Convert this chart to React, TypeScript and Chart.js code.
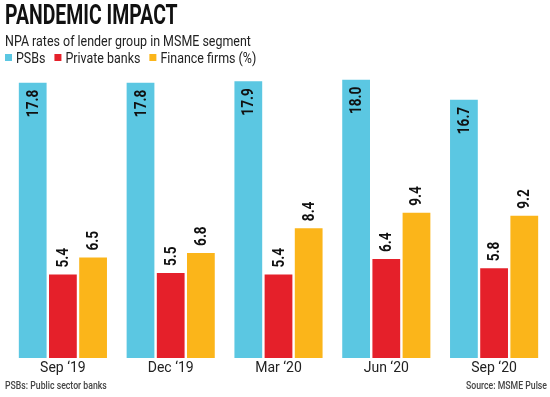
import React, { useEffect, useRef } from "react";
import { Chart, registerables } from "chart.js";

Chart.register(...registerables);

const TITLE = "PANDEMIC IMPACT";
const SUBTITLE = "NPA rates of lender group in MSME segment";
const FOOT_LEFT = "PSBs: Public sector banks";
const FOOT_RIGHT = "Source: MSME Pulse";

const categories = ["Sep \u201819", "Dec \u201819", "Mar \u201820", "Jun \u201820", "Sep \u201820"];
const seriesNames = ["PSBs", "Private banks", "Finance firms (%)"];
const psbs = [17.8, 17.8, 17.9, 18.0, 16.7];
const privateBanks = [5.4, 5.5, 5.4, 6.4, 5.8];
const financeFirms = [6.5, 6.8, 8.4, 9.4, 9.2];
const colors = ["#5BC7E2", "#E5202A", "#FBB51A"];

const FONT = "Roboto, 'Noto Sans', sans-serif";

// draw text horizontally compressed (condensed look)
function drawCondensed(ctx: any, text: string, x: number, y: number, sx: number, align: string) {
  ctx.save();
  ctx.translate(x, y);
  ctx.scale(sx, 1);
  ctx.textAlign = align;
  ctx.fillText(text, 0, 0);
  ctx.restore();
}

const headerFooterPlugin = {
  id: "headerFooter",
  afterDraw(chart: any) {
    const ctx = chart.ctx;
    ctx.save();
    ctx.textBaseline = "alphabetic";
    ctx.fillStyle = "#111";
    ctx.font = `bold 27px ${FONT}`;
    drawCondensed(ctx, TITLE, 5, 24, 0.72, "left");
    ctx.font = `15px ${FONT}`;
    ctx.fillStyle = "#222";
    const sx = 0.83;
    drawCondensed(ctx, SUBTITLE, 5, 46, sx, "left");
    // legend
    let x = 5;
    chart.data.datasets.forEach((ds: any) => {
      ctx.fillStyle = ds.backgroundColor;
      ctx.fillRect(x, 54, 7, 7);
      x += 11;
      ctx.fillStyle = "#222";
      drawCondensed(ctx, ds.label, x, 63, sx, "left");
      x += ctx.measureText(ds.label).width * sx + 9;
    });
    // footer
    ctx.font = `500 10px ${FONT}`;
    ctx.fillStyle = "#444";
    drawCondensed(ctx, FOOT_LEFT, 5, 389, 0.87, "left");
    drawCondensed(ctx, FOOT_RIGHT, 547, 389, 0.87, "right");
    ctx.restore();
  },
};

const valueLabelPlugin = {
  id: "valueLabels",
  afterDatasetsDraw(chart: any) {
    const ctx = chart.ctx;
    ctx.save();
    ctx.fillStyle = "#111";
    ctx.font = `bold 16px ${FONT}`;
    ctx.textBaseline = "middle";
    chart.data.datasets.forEach((ds: any, di: number) => {
      const meta = chart.getDatasetMeta(di);
      meta.data.forEach((bar: any, i: number) => {
        const text = ds.data[i].toFixed(1);
        ctx.save();
        if (di === 0) {
          ctx.translate(bar.x, bar.y + 7);
          ctx.rotate(-Math.PI / 2);
          ctx.scale(0.85, 1);
          ctx.textAlign = "right";
        } else {
          ctx.translate(bar.x, bar.y - 7);
          ctx.rotate(-Math.PI / 2);
          ctx.scale(0.85, 1);
          ctx.textAlign = "left";
        }
        ctx.fillText(text, 0, 1);
        ctx.restore();
      });
    });
    ctx.restore();
  },
};

export default function App() {
  const ref = useRef<HTMLCanvasElement | null>(null);
  useEffect(() => {
    document.body.style.margin = "0";
    const chart = new Chart(ref.current as HTMLCanvasElement, {
      type: "bar",
      data: {
        labels: categories,
        datasets: [
          { label: seriesNames[0], data: psbs, backgroundColor: colors[0] },
          { label: seriesNames[1], data: privateBanks, backgroundColor: colors[1] },
          { label: seriesNames[2], data: financeFirms, backgroundColor: colors[2] },
        ],
      },
      options: {
        animation: false,
        responsive: true,
        maintainAspectRatio: false,
        layout: { padding: { left: 5, right: 2, top: 72, bottom: 20 } },
        datasets: { bar: { categoryPercentage: 0.84, barPercentage: 0.92 } },
        plugins: {
          legend: { display: false },
          title: { display: false },
          tooltip: { enabled: false },
        },
        scales: {
          x: {
            grid: { display: false, drawTicks: false },
            border: { display: false },
            ticks: { color: "#222", font: { family: FONT, size: 14 }, padding: 2 },
            afterFit: (s: any) => {
              s.height = 19;
            },
          },
          y: {
            min: 0,
            max: 18.5,
            grid: { display: false, drawTicks: false },
            border: { display: false },
            ticks: { display: false },
            afterFit: (s: any) => {
              s.width = 4;
            },
          },
        },
      },
      plugins: [headerFooterPlugin, valueLabelPlugin],
    });
    return () => chart.destroy();
  }, []);
  return (
    <div style={{ position: "fixed", left: 0, top: 0, width: 550, height: 397 }}>
      <canvas ref={ref} />
    </div>
  );
}
